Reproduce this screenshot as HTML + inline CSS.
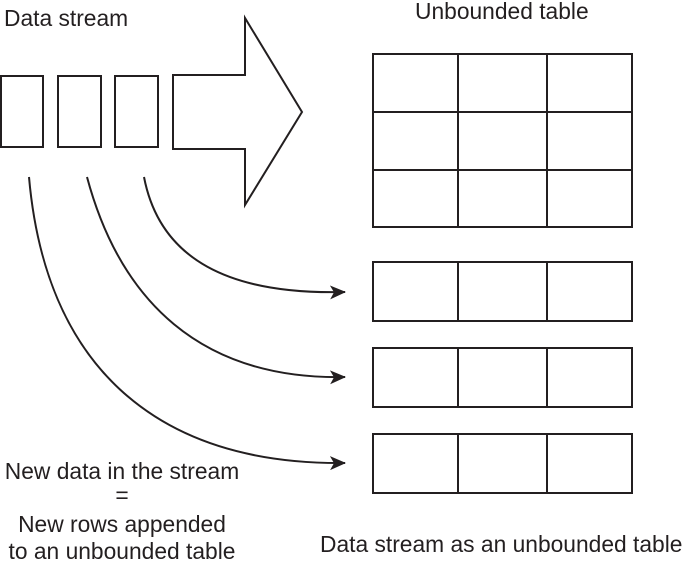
<!DOCTYPE html>
<html><head><style>
body{margin:0;background:#fff;}
svg text{font-family:"Liberation Sans",Arial,sans-serif;font-size:22.8px;fill:#231f20;}
</style></head><body>
<svg width="685" height="570" viewBox="0 0 685 570" xmlns="http://www.w3.org/2000/svg">
<defs><marker id="a" markerWidth="16" markerHeight="14" refX="15" refY="7" orient="auto" markerUnits="userSpaceOnUse"><path d="M0,0 L16,7 L0,14 L4,7 Z" fill="#231f20"/></marker></defs>
<g fill="none" stroke="#231f20" stroke-width="2">
<rect x="1" y="76" width="42" height="71"/>
<rect x="58" y="76" width="43" height="71"/>
<rect x="115" y="76" width="43" height="71"/>
<path d="M173,75 L245,75 L245,18 L302,112 L245,205 L245,149 L173,149 Z"/>
<rect x="373" y="54" width="259" height="173"/>
<line x1="373" y1="112" x2="632" y2="112"/><line x1="373" y1="170" x2="632" y2="170"/>
<line x1="458" y1="54" x2="458" y2="227"/><line x1="547" y1="54" x2="547" y2="227"/>
<rect x="373" y="262" width="259" height="59"/><line x1="458" y1="262" x2="458" y2="321"/><line x1="547" y1="262" x2="547" y2="321"/>
<rect x="373" y="348" width="259" height="59"/><line x1="458" y1="348" x2="458" y2="407"/><line x1="547" y1="348" x2="547" y2="407"/>
<rect x="373" y="434" width="259" height="59"/><line x1="458" y1="434" x2="458" y2="493"/><line x1="547" y1="434" x2="547" y2="493"/>
<path d="M144,177 C160,260 230,295 345,292" marker-end="url(#a)"/>
<path d="M87,177 C120,300 200,380 345,377" marker-end="url(#a)"/>
<path d="M29,177 C45,360 150,465 345,463" marker-end="url(#a)"/>
</g>
<text x="4" y="26">Data stream</text>
<text x="415" y="19">Unbounded table</text>
<text x="122" y="479" text-anchor="middle">New data in the stream</text>
<text x="122" y="503" text-anchor="middle">=</text>
<text x="122" y="532" text-anchor="middle">New rows appended</text>
<text x="122" y="559" text-anchor="middle">to an unbounded table</text>
<text x="320" y="552">Data stream as an unbounded table</text>
</svg>
</body></html>
